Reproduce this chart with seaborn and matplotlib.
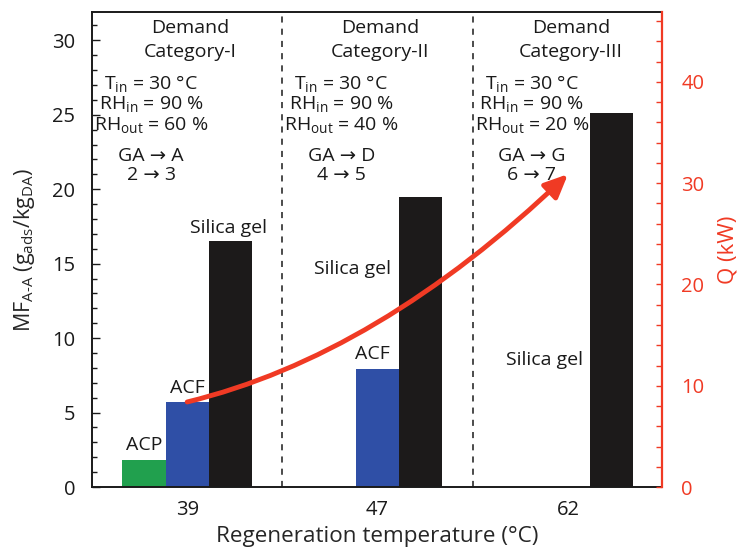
import numpy as np
import pandas as pd
import matplotlib
matplotlib.use("Agg")
import matplotlib.pyplot as plt
from matplotlib.path import Path
from matplotlib.patches import FancyArrowPatch
from matplotlib.ticker import MultipleLocator
import seaborn as sns

# Regeneration temperatures (°C) and adsorbent materials
temperatures = ["39", "47", "62"]
materials = ["ACP", "ACF", "Silica gel"]

# Moisture flux MF_A-A (g_ads / kg_DA) per material at each temperature
mf_acp = [1.8, np.nan, np.nan]
mf_acf = [5.7, 7.9, np.nan]
mf_silica = [16.5, 19.5, 25.1]

# Cooling load Q (kW) at each temperature
q_kw = [8.4, 16.3, 30.9]

# Demand-category annotations
categories = ["Demand", "Demand", "Demand"]
category_names = ["Category-I", "Category-II", "Category-III"]
rh_out = ["60 %", "40 %", "20 %"]
ga_targets = ["GA \u2192 A", "GA \u2192 D", "GA \u2192 G"]
state_steps = ["2 \u2192 3", "4 \u2192 5", "6 \u2192 7"]

palette = {"ACP": "#21a04e", "ACF": "#2f4fa6", "Silica gel": "#1c1a1a"}
red = "#f03a24"

sns.set_style("ticks")
plt.rcParams["font.family"] = ["Open Sans", "DejaVu Sans"]
plt.rcParams["mathtext.fontset"] = "custom"
plt.rcParams["mathtext.rm"] = "Open Sans"
plt.rcParams["mathtext.it"] = "Open Sans"
plt.rcParams["mathtext.default"] = "regular"
plt.rcParams["text.color"] = "#1a1a1a"

df = pd.DataFrame({
    "temperature": temperatures * 3,
    "material": [m for m in materials for _ in temperatures],
    "mf": mf_acp + mf_acf + mf_silica,
}).dropna()

fig = plt.figure(figsize=(7.42, 5.5), dpi=100)
ax = fig.add_axes([0.124, 0.1145, 0.768, 0.8635])

sns.barplot(data=df, x="temperature", y="mf", hue="material",
            order=temperatures, hue_order=materials, palette=palette,
            width=0.68, gap=0, linewidth=0, saturation=1, legend=False,
            errorbar=None, ax=ax, zorder=2)

ax.set_xlim(-0.5, 2.493)
ax.set_ylim(0, 31.9)
ax.yaxis.set_major_locator(MultipleLocator(5))
ax.yaxis.set_minor_locator(MultipleLocator(1))
ax.tick_params(axis="y", which="major", direction="in", length=6, width=1,
               labelsize=14.5, pad=12, colors="#1a1a1a")
ax.tick_params(axis="y", which="minor", direction="in", length=3.5, width=1,
               colors="#1a1a1a")
ax.tick_params(axis="x", length=0, labelsize=14.5, pad=9, colors="#1a1a1a")

for side in ["left", "bottom", "top"]:
    ax.spines[side].set_visible(True)
    ax.spines[side].set_linewidth(1.4)
    ax.spines[side].set_color("#1a1a1a")
ax.spines["right"].set_visible(False)

ax.set_xlabel("Regeneration temperature (\u00b0C)", fontsize=16.2, labelpad=5)
ax.set_ylabel(r"MF$_{A\text{-}A}$ (g$_{ads}$/kg$_{DA}$)", fontsize=15.5)
ax.yaxis.set_label_coords(-0.096, 0.5)

# Category separators
for xs in (0.5, 1.5):
    ax.axvline(xs, color="#1a1a1a", lw=1.1, ls=(0, (4, 4)), zorder=1)

# Category annotations
arrow_font = ["Open Sans", "DejaVu Sans"]
for i in range(3):
    xt = i + 0.015
    xb = i - 0.19
    ax.text(xt, 30.85, categories[i], ha="center", va="center", fontsize=14)
    ax.text(xt, 29.25, category_names[i], ha="center", va="center", fontsize=14)
    ax.text(xb, 27.1, "T$_{in}$ = 30 \u00b0C", ha="center", va="center", fontsize=14)
    ax.text(xb, 25.76, "RH$_{in}$ = 90 %", ha="center", va="center", fontsize=14)
    ax.text(xb, 24.34, "RH$_{out}$ = " + rh_out[i], ha="center", va="center", fontsize=14)
    ax.text(xb, 22.25, ga_targets[i], ha="center", va="center", fontsize=14,
            family=arrow_font)
    ax.text(xb, 20.97, state_steps[i], ha="center", va="center", fontsize=14,
            family=arrow_font)

# Material labels next to the bars
bar_labels = [
    ("ACP", -0.226, 2.85),
    ("ACF", 0.0, 6.68),
    ("Silica gel", 0.215, 17.4),
    ("ACF", 0.971, 8.96),
    ("Silica gel", 0.866, 14.67),
    ("Silica gel", 1.874, 8.5),
]
for label, xl, yl in bar_labels:
    ax.text(xl, yl, label, ha="center", va="center", fontsize=14)

# Secondary axis: cooling load Q
ax2 = ax.twinx()
ax2.set_ylim(0, 46.9)
ax2.yaxis.set_major_locator(MultipleLocator(10))
ax2.yaxis.set_minor_locator(MultipleLocator(2))
ax2.tick_params(axis="y", which="both", direction="in", length=4, width=1,
                colors=red, labelsize=14.5, pad=14)
for side in ["left", "bottom", "top"]:
    ax2.spines[side].set_visible(False)
ax2.spines["right"].set_visible(True)
ax2.spines["right"].set_color(red)
ax2.spines["right"].set_linewidth(1.6)
ax2.set_ylabel("Q (kW)", color=red, fontsize=16, rotation=90)
ax2.yaxis.set_label_coords(1.097, 0.5)

# Q trend as a smooth arrow through the three points
xq = np.arange(len(q_kw), dtype=float)
p0 = np.array([xq[0], q_kw[0]])
pm = np.array([xq[1], q_kw[1]])
p2 = np.array([xq[2], q_kw[2]])
ctrl = 2 * pm - (p0 + p2) / 2
q_path = Path([p0, ctrl, p2], [Path.MOVETO, Path.CURVE3, Path.CURVE3])
arrow = FancyArrowPatch(path=q_path, transform=ax2.transData,
                        arrowstyle="-|>,head_length=1.0,head_width=0.45",
                        mutation_scale=14, lw=3.5, color=red, zorder=5)
ax2.add_patch(arrow)

fig.savefig("out.png", dpi=100)
